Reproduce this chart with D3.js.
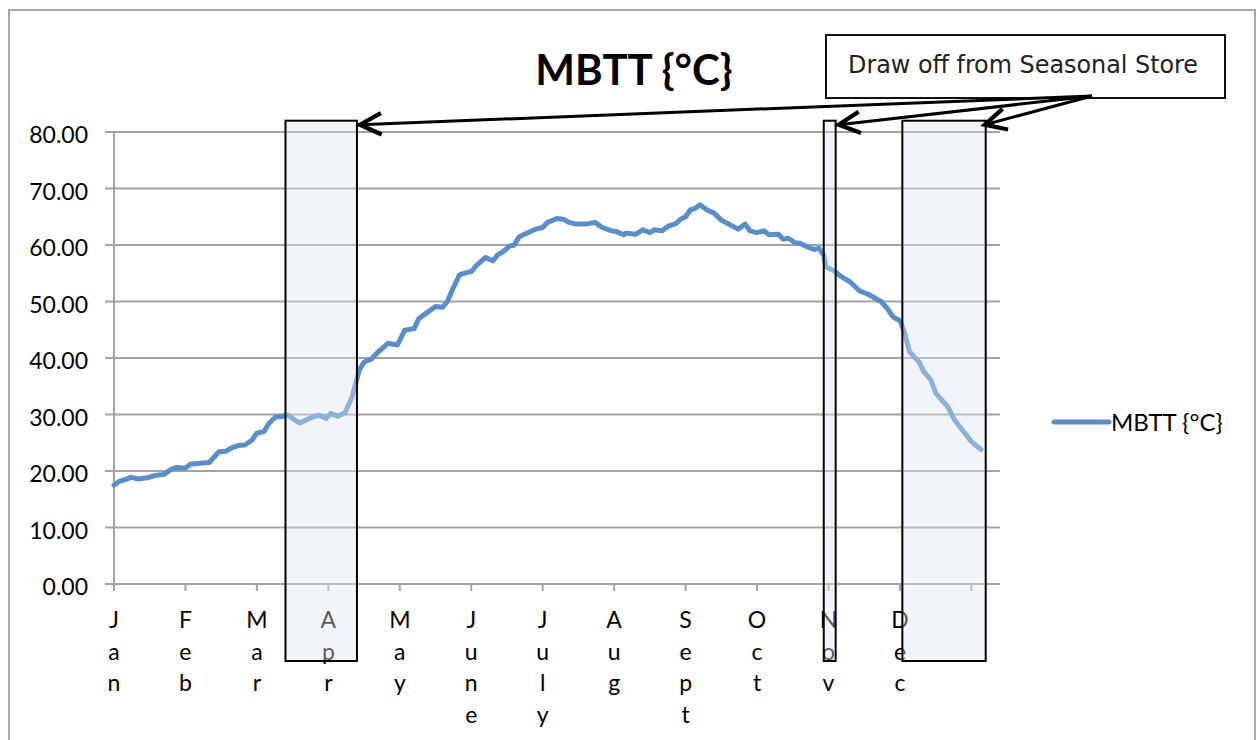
<!DOCTYPE html>
<html>
<head>
<meta charset="utf-8">
<script src="https://cdn.jsdelivr.net/npm/d3@7"></script>
<style>
  html, body { margin: 0; padding: 0; background: #fff; }
  svg { display: block; }
</style>
</head>
<body>
<svg id="chart" width="1258" height="740"></svg>
<script>
// ---- data ----
const months = ["Jan","Feb","Mar","Apr","May","June","July","Aug","Sept","Oct","Nov","Dec"];
const monthTicks = [0,30,60,90,120,150,180,210,240,270,300,330,360];
const yTicks = [0,10,20,30,40,50,60,70,80];
const days = [0,2,5,7,10,14,17,21,24,26,30,32,37,40,44,47,49,52,55,58,60,63,65,68,70,73,76,78,82,86,89,91,94,97,100,103,105,108,111,115,119,122,126,128,131,135,138,140,142,145,148,150,152,156,159,161,164,166,168,170,174,177,180,182,186,189,191,194,198,202,205,209,211,214,215,219,222,225,227,230,233,236,238,240,242,244,246,249,252,255,259,262,265,267,270,273,275,279,281,283,286,288,291,294,296,298,299,302,305,309,313,317,322,325,327,330,332,334,338,340,343,345,350,353,357,360,364];
const mbtt = [17.5,18.1,18.5,18.9,18.6,18.8,19.2,19.4,20.3,20.6,20.5,21.2,21.4,21.5,23.4,23.5,24.0,24.5,24.6,25.5,26.7,27.0,28.4,29.6,29.6,29.9,29.0,28.5,29.3,29.9,29.3,30.2,29.7,30.3,33.1,37.9,39.3,39.8,41.1,42.6,42.3,44.9,45.2,47.0,47.9,49.1,49.0,50.0,52.0,54.7,55.1,55.3,56.3,57.8,57.2,58.2,59.0,59.8,60.0,61.4,62.2,62.8,63.1,64.0,64.7,64.5,64.0,63.7,63.7,64.0,63.1,62.5,62.4,61.8,62.1,61.9,62.7,62.2,62.7,62.5,63.4,63.8,64.6,65.0,66.2,66.5,67.1,66.2,65.6,64.4,63.5,62.8,63.7,62.5,62.2,62.5,61.8,61.9,61.0,61.2,60.4,60.3,59.7,59.2,59.4,58.2,56.1,55.5,54.5,53.5,51.9,51.2,50.0,48.6,47.3,46.6,44.4,41.1,39.3,37.6,36.1,33.8,31.4,29.0,26.8,25.2,23.8];
const storeStart = [72, 298, 331];
const storeEnd = [102, 303, 366];
const seriesName = "MBTT {°C}";
const chartTitle = "MBTT {°C}";
const noteText = "Draw off from Seasonal Store";

// ---- layout ----
const svg = d3.select("#chart");
const plot = { left: 114, right: 1000, top: 132, bottom: 584 };
const x = d3.scaleLinear().domain([0, 372]).range([plot.left, plot.right]);
const y = d3.scaleLinear().domain([0, 80]).range([plot.bottom, plot.top]);
const blue = "#5a8ecb";
const grid = "#a3a3a3";
const font = "Lato, 'Open Sans', sans-serif";

// outer border
svg.append("rect").attr("x", 9).attr("y", 10).attr("width", 1246).attr("height", 740)
  .attr("fill", "#fff").attr("stroke", "#a8a8a8").attr("stroke-width", 2);

// title
svg.append("text").attr("x", 634).attr("y", 85).attr("text-anchor", "middle")
  .attr("font-family", font).attr("font-weight", "bold").attr("font-size", 42)
  .attr("fill", "#000").text(chartTitle);

// gridlines + y labels
const gy = svg.append("g");
gy.selectAll("line").data(yTicks).join("line")
  .attr("x1", plot.left - 9).attr("x2", plot.right)
  .attr("y1", d => y(d)).attr("y2", d => y(d))
  .attr("stroke", grid).attr("stroke-width", 2);
gy.selectAll("text").data(yTicks).join("text")
  .attr("x", 88).attr("y", d => y(d) + 11).attr("text-anchor", "end")
  .attr("font-family", font).attr("font-size", 23).attr("fill", "#000")
  .text(d => d3.format(".2f")(d));

// y axis line
svg.append("line").attr("x1", plot.left).attr("x2", plot.left)
  .attr("y1", y(80)).attr("y2", y(0)).attr("stroke", grid).attr("stroke-width", 2);

// x ticks
svg.append("g").selectAll("line").data(monthTicks).join("line")
  .attr("x1", d => x(d)).attr("x2", d => x(d))
  .attr("y1", y(0)).attr("y2", y(0) + 7)
  .attr("stroke", grid).attr("stroke-width", 2);

// x labels (stacked letters)
const xl = svg.append("g").selectAll("text").data(months).join("text")
  .attr("font-family", font).attr("font-size", 23).attr("fill", "#000")
  .attr("text-anchor", "middle");
xl.each(function(m, i) {
  const t = d3.select(this);
  m.split("").forEach((ch, j) => {
    t.append("tspan").attr("x", x(monthTicks[i])).attr("y", 628 + j * 31.7).text(ch);
  });
});

// line
const line = d3.line().x((d, i) => x(days[i])).y(d => y(d));
svg.append("path").datum(mbtt).attr("d", line)
  .attr("fill", "none").attr("stroke", blue).attr("stroke-width", 5)
  .attr("stroke-linejoin", "round").attr("stroke-linecap", "round");

// legend
svg.append("line").attr("x1", 1054).attr("x2", 1109).attr("y1", 422).attr("y2", 422)
  .attr("stroke", blue).attr("stroke-width", 5).attr("stroke-linecap", "round");
svg.append("text").attr("x", 1111).attr("y", 431)
  .attr("font-family", font).attr("font-size", 24).attr("fill", "#000").text(seriesName);

// seasonal store rectangles (overlay)
const rTop = y(82), rBottom = y(0) + 77;
svg.append("g").selectAll("rect").data(storeStart).join("rect")
  .attr("x", d => x(d)).attr("y", rTop)
  .attr("width", (d, i) => x(storeEnd[i]) - x(d)).attr("height", rBottom - rTop)
  .attr("fill", "rgb(220,230,242)").attr("fill-opacity", 0.4)
  .attr("stroke", "#000").attr("stroke-width", 2);

// note box
const box = { x: 826, y: 35, w: 399, h: 63 };
svg.append("rect").attr("x", box.x).attr("y", box.y).attr("width", box.w).attr("height", box.h)
  .attr("fill", "#fff").attr("stroke", "#111").attr("stroke-width", 2);
svg.append("text").attr("x", box.x + 22).attr("y", box.y + 38)
  .attr("font-family", "'DejaVu Sans Condensed', 'DejaVu Sans', sans-serif")
  .attr("font-size", 24).attr("fill", "#222")
  .attr("textLength", 350).attr("lengthAdjust", "spacingAndGlyphs").text(noteText);

// arrows
svg.append("defs").append("marker").attr("id", "arrow")
  .attr("markerUnits", "userSpaceOnUse").attr("markerWidth", 32).attr("markerHeight", 32)
  .attr("viewBox", "-26 -14 30 28").attr("refX", 0).attr("refY", 0).attr("orient", "auto")
  .append("path").attr("d", "M-20,-10 L0,0 L-20,10").attr("fill", "none")
  .attr("stroke", "#000").attr("stroke-width", 4).attr("stroke-linejoin", "miter");
const sx = box.x + 266, sy = box.y + box.h - 2;
svg.append("g").selectAll("line").data(storeEnd).join("line")
  .attr("x1", sx).attr("y1", sy)
  .attr("x2", (d, i) => x(d) + (i === 2 ? -1 : 3)).attr("y2", rTop + 4)
  .attr("stroke", "#000").attr("stroke-width", 3).attr("marker-end", "url(#arrow)");
</script>
</body>
</html>
